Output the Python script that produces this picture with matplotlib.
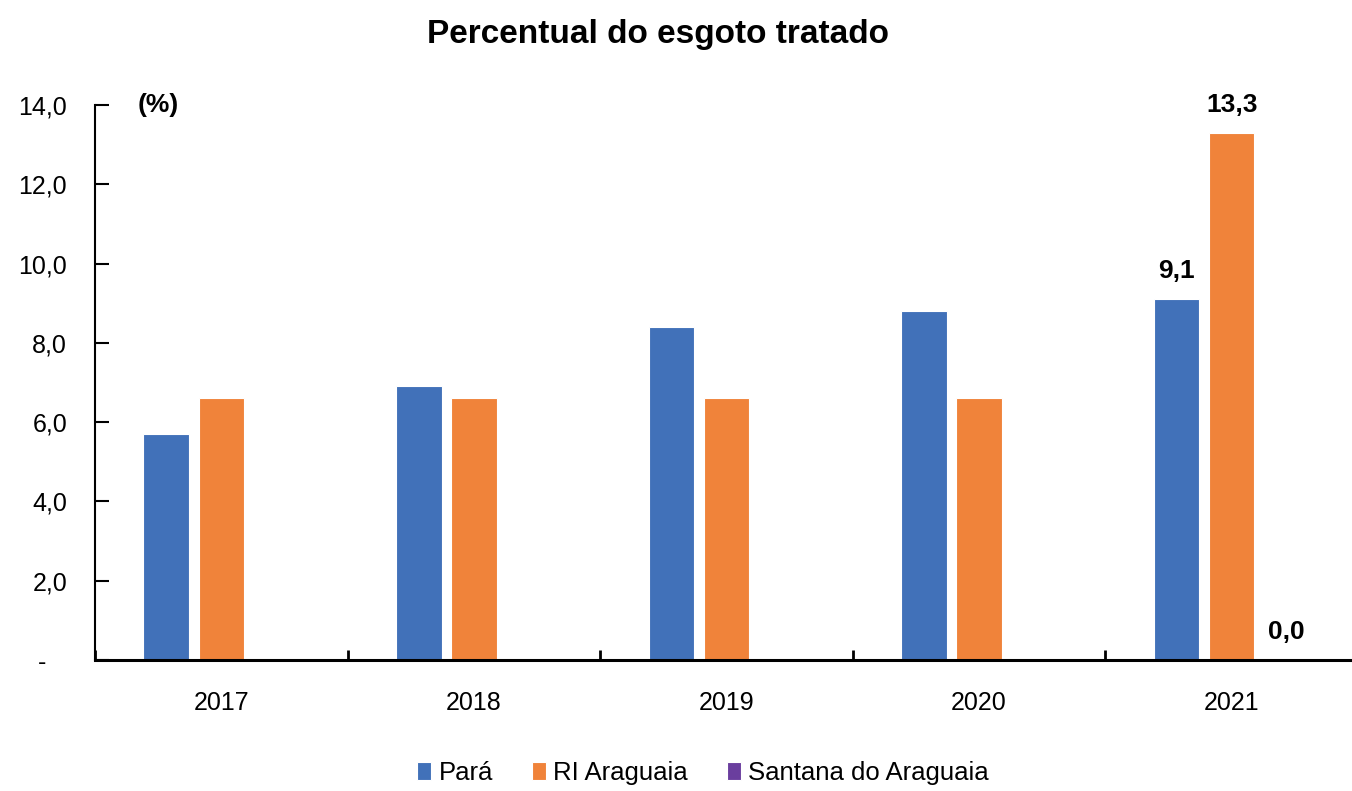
import numpy as np
import matplotlib
matplotlib.use('Agg')
import matplotlib.pyplot as plt
from matplotlib import font_manager

# Dados
anos = ['2017', '2018', '2019', '2020', '2021']
para = [5.7, 6.9, 8.4, 8.8, 9.1]
ri_araguaia = [6.6, 6.6, 6.6, 6.6, 13.3]
santana = [np.nan, np.nan, np.nan, np.nan, 0.0]
series_nomes = ['Pará', 'RI Araguaia', 'Santana do Araguaia']
cores = ['#4171B9', '#F0833A', '#6A3E9E']
yticks = [0, 2, 4, 6, 8, 10, 12, 14]
ytick_labels = ['-   ', '2,0', '4,0', '6,0', '8,0', '10,0', '12,0', '14,0']

# fonte estreita se existir
nomes = {f.name for f in font_manager.fontManager.ttflist}
fonte = 'Liberation Sans Narrow' if 'Liberation Sans Narrow' in nomes else 'Liberation Sans'
plt.rcParams['font.family'] = [fonte, 'DejaVu Sans']

fig = plt.figure(figsize=(13.52, 7.91), dpi=100)
ax = fig.add_axes([95 / 1352, 1 - 660 / 791, (1358 - 95) / 1352, (660 - 105) / 791])

x = np.arange(len(anos))
passo = 0.218
larg = 0.18
dados = [para, ri_araguaia, santana]
for i, (vals, nome, cor) in enumerate(zip(dados, series_nomes, cores)):
    ax.bar(x + (i - 1) * passo, vals, width=larg, color=cor, edgecolor='white',
           linewidth=0.8, label=nome, zorder=2)

# rótulos só em 2021
for i, vals in enumerate(dados):
    v = vals[-1]
    ax.text(x[-1] + (i - 1) * passo, v + 0.4, ('%.1f' % v).replace('.', ','),
            ha='center', va='bottom', fontsize=19, fontweight='bold')

ax.set_xlim(-0.5, 4.5)
ax.set_ylim(0, 14)
ax.set_yticks(yticks)
ax.set_yticklabels(ytick_labels, fontsize=18)
ax.set_xticks(np.arange(-0.5, 4.6, 1.0))
ax.set_xticklabels([])
ax.set_xticks(x, minor=True)
ax.set_xticklabels(anos, minor=True, fontsize=18)
ax.tick_params(axis='x', which='minor', length=0, pad=22)
ax.tick_params(axis='x', which='major', direction='in', length=7, width=2)
ax.tick_params(axis='y', direction='in', length=10, width=1.5, pad=20)
for lbl in ax.get_yticklabels():
    lbl.set_horizontalalignment('right')

for s in ['top', 'right']:
    ax.spines[s].set_visible(False)
ax.spines['left'].set_linewidth(1.5)
ax.spines['bottom'].set_linewidth(2.2)

ax.text(0.034, 1.0, '(%)', transform=ax.transAxes, fontsize=19, fontweight='bold',
        ha='left', va='center')

fig.suptitle('Percentual do esgoto tratado', x=658 / 1352, y=1 - 34 / 791,
             fontsize=24, fontweight='bold', va='center')

leg = fig.legend(loc='center', bbox_to_anchor=(703 / 1352, 1 - 773 / 791), ncol=3,
                 frameon=False, fontsize=18.5, handlelength=0.55, handleheight=0.75,
                 handletextpad=0.3, columnspacing=1.5)

fig.savefig('out.png', dpi=100)
